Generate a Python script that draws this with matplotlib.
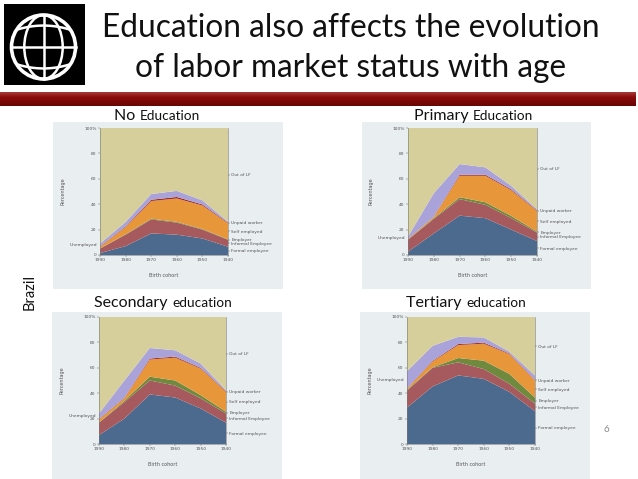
import numpy as np
import matplotlib.pyplot as plt
from matplotlib.patches import Rectangle, Circle, Ellipse
from matplotlib.colors import LinearSegmentedColormap

W, H = 638, 479

years = [1990, 1980, 1970, 1960, 1950, 1940]
layer_names = ['Formal employee', 'Informal Employee', 'Employer', 'Self employed',
               'Unpaid worker', 'Unemployed', 'Out of LF']
layer_colors = ['#4b6a8e', '#a65a5e', '#6f8a3e', '#e8963a', '#9e2a2b', '#aaa3da', '#d6cf9c']

# No education (percent of cohort, bottom layer first)
none_formal = [1.5, 7, 17, 16, 13, 6.5]
none_informal = [3.5, 9, 11, 9.5, 7, 5.5]
none_employer = [0.2, 0.4, 0.6, 0.6, 0.5, 0.4]
none_self = [1.3, 5.6, 13.9, 18.4, 18.5, 12.6]
none_unpaid = [0.3, 0.5, 1.0, 1.2, 0.8, 0.5]
none_unemployed = [2.2, 3.5, 4.5, 4.8, 3.2, 0.8]

# Primary education
prim_formal = [2.6, 17, 31, 29, 20, 11]
prim_informal = [9.4, 11.5, 13, 10.5, 9, 6.6]
prim_employer = [0.3, 0.6, 1.5, 2.0, 1.8, 0.8]
prim_self = [0.3, 0.9, 16.9, 20.9, 20.2, 16.3]
prim_unpaid = [0.2, 0.3, 0.8, 0.8, 0.7, 0.5]
prim_unemployed = [1.7, 18.4, 8.4, 5.8, 2.8, 0.8]

# Secondary education
sec_formal = [7, 20, 39, 36.6, 28, 16.8]
sec_informal = [9.8, 13, 11, 9.4, 8, 7.2]
sec_employer = [0.2, 1.0, 3.0, 4.0, 2.5, 1.4]
sec_self = [2.4, 2.0, 13.5, 18, 20.9, 15.6]
sec_unpaid = [0.3, 0.4, 0.8, 0.8, 0.6, 0.5]
sec_unemployed = [4.3, 13.6, 8.3, 5.0, 3.4, 0.9]

# Tertiary education
ter_formal = [28.6, 45.3, 54, 51.3, 41, 25.8]
ter_informal = [13.4, 14.7, 10.3, 7.7, 6.4, 6.0]
ter_employer = [0.7, 0.4, 3.4, 6.6, 7.8, 4.7]
ter_self = [0.8, 4.6, 10.2, 13.4, 15.6, 13.5]
ter_unpaid = [0.3, 0.5, 0.8, 0.8, 0.5, 0.4]
ter_unemployed = [13.5, 11.8, 5.7, 4.1, 1.4, 3.5]

panel_titles = [('No', 'Education'), ('Primary', 'Education'),
                ('Secondary', 'education'), ('Tertiary', 'education')]
panels = [
    [none_formal, none_informal, none_employer, none_self, none_unpaid, none_unemployed],
    [prim_formal, prim_informal, prim_employer, prim_self, prim_unpaid, prim_unemployed],
    [sec_formal, sec_informal, sec_employer, sec_self, sec_unpaid, sec_unemployed],
    [ter_formal, ter_informal, ter_employer, ter_self, ter_unpaid, ter_unemployed],
]

# pixel boxes: panel background, plot area, title centre
panel_bg = [(53, 122, 283, 289), (362, 122, 591, 289), (52, 312, 282, 479), (360, 312, 590, 479)]
plot_box = [(100, 128, 228, 255), (408, 128, 537, 255), (99, 317, 226, 444), (407, 317, 535, 444)]
title_pos = [(157, 120), (473, 120), (163, 307), (466, 307)]


def frac(x0, y0, x1, y1):
    return [x0 / W, 1 - y1 / H, (x1 - x0) / W, (y1 - y0) / H]


fig = plt.figure(figsize=(W / 100, H / 100), dpi=100)
fig.patch.set_facecolor('white')
renderer = fig.canvas.get_renderer()

# logo
lax = fig.add_axes(frac(4, 4, 85, 85))
lax.set_xlim(0, 81)
lax.set_ylim(0, 81)
lax.axis('off')
lax.add_patch(Rectangle((0, 0), 81, 81, color='black'))
cx, cy, r = 39.5, 38, 32
lax.add_patch(Circle((cx, cy), r, fill=False, ec='white', lw=2.6))
lax.add_patch(Ellipse((cx, cy), r * 1.2, 2 * r, fill=False, ec='white', lw=1.8))
lax.plot([cx, cx], [cy - r, cy + r], color='white', lw=1.8)
lax.plot([cx - r, cx + r], [cy, cy], color='white', lw=1.8)
for k in (-1, 1):
    t = np.linspace(-1, 1, 50)
    yy = cy + k * (0.55 * r) + k * 0.12 * r * (1 - t ** 2)
    xx = cx + t * r * 0.8
    lax.plot(xx, yy, color='white', lw=1.8)

# title
fig.text(351 / W, 1 - 37 / H, 'Education also affects the evolution', ha='center', va='baseline',
         fontsize=22.8, family='Lato', color='#111111')
fig.text(351 / W, 1 - 77 / H, 'of labor market status with age', ha='center', va='baseline',
         fontsize=22.8, family='Lato', color='#111111')

# red bar
bax = fig.add_axes(frac(0, 92, 636, 106))
grad = np.linspace(0, 1, 20).reshape(-1, 1)
bax.imshow(grad, aspect='auto', cmap=LinearSegmentedColormap.from_list(
    'bar', ['#a83a3a', '#8c0c0c', '#7a0808', '#6a0505']), extent=[0, 1, 0, 1])
bax.axis('off')

fig.text(30 / W, 1 - 292 / H, 'Brazil', rotation=90, ha='center', va='center',
         fontsize=10.5, family='Lato', color='#111111')
fig.text(606 / W, 1 - 430 / H, '6', ha='center', va='center', fontsize=7,
         family='Lato', color='#8a8a8a')

small = 3.2
for i, layers in enumerate(panels):
    bg = fig.add_axes(frac(*panel_bg[i]))
    bg.set_facecolor('#e9eef1')
    bg.set_xticks([])
    bg.set_yticks([])
    for s in bg.spines.values():
        s.set_visible(False)

    ax = fig.add_axes(frac(*plot_box[i]))
    arr = np.array(layers, dtype=float)
    out_lf = 100 - arr.sum(axis=0)
    allv = np.vstack([arr, out_lf])
    ax.stackplot(years, *allv, colors=layer_colors, linewidth=0)
    ax.set_xlim(1990, 1940)
    ax.set_ylim(0, 100)
    ax.set_xticks(years)
    ax.set_xticklabels([str(y) for y in years])
    ax.set_yticks([0, 20, 40, 60, 80, 100])
    ax.set_yticklabels(['0', '20', '40', '60', '80', '100%'])
    ax.tick_params(labelsize=small, length=1.5, width=0.3, pad=1, colors='#555555')
    for s in ['left', 'bottom', 'right']:
        ax.spines[s].set_color('#777777')
        ax.spines[s].set_linewidth(0.4)
    ax.spines['top'].set_visible(False)
    ax.set_ylabel('Percentage', fontsize=3.5, color='#555555')
    ax.yaxis.set_label_coords(-0.27, 0.5)
    ax.set_xlabel('Birth cohort', fontsize=3.5, color='#555555')
    ax.xaxis.set_label_coords(0.5, -0.14)

    # right-hand labels at the middle of each layer in 1940
    tops = np.cumsum(allv[:, -1])
    bots = tops - allv[:, -1]
    mids = (tops + bots) / 2
    keep = [0, 1, 2, 3, 4, 6]
    ax2 = ax.twinx()
    ax2.set_ylim(0, 100)
    ax2.set_yticks([mids[k] for k in keep])
    ax2.set_yticklabels([layer_names[k] for k in keep])
    ax2.tick_params(labelsize=small, length=1.5, width=0.3, pad=1, colors='#555555')
    for s in ax2.spines.values():
        s.set_visible(False)

    # unemployed label on the left, 1990
    tops0 = np.cumsum(allv[:, 0])
    mid_un = tops0[5] - allv[5, 0] / 2
    ax.annotate('Unemployed', xy=(1990, mid_un), xytext=(-2, 0), textcoords='offset points',
                ha='right', va='center', fontsize=small, color='#555555', annotation_clip=False)

    # panel heading: larger first word, smaller second word, centred together
    first, second = panel_titles[i]
    tx, ty = title_pos[i]
    t1 = fig.text(0, 1 - ty / H, first + ' ', ha='left', va='baseline',
                  fontsize=11.5, family='Lato', color='#111111')
    t2 = fig.text(0, 1 - ty / H, second, ha='left', va='baseline',
                  fontsize=9.8, family='Lato', color='#111111')
    w1 = t1.get_window_extent(renderer).width
    w2 = t2.get_window_extent(renderer).width
    x0 = tx - (w1 + w2) / 2
    t1.set_x(x0 / W)
    t2.set_x((x0 + w1) / W)

fig.savefig('out.png', dpi=100)
